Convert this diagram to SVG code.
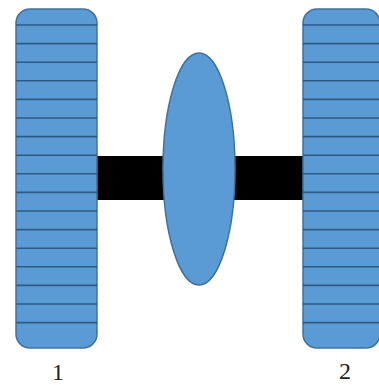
<svg xmlns="http://www.w3.org/2000/svg" width="379" height="385" viewBox="0 0 379 385">
  <defs>
    <style>
      .wheel { fill: #5b9bd5; stroke: #41719c; stroke-width: 1.5; }
      .tread { stroke: #2e5a86; stroke-width: 1.6; }
      .axle { fill: #000000; }
      .body { fill: #5b9bd5; stroke: #41719c; stroke-width: 1.5; }
      .label { font-family: "Liberation Serif", serif; font-size: 24px; fill: #222222; text-anchor: middle; }
    </style>
    <!-- tread lines shared by both wheels -->
    <g id="treads" class="tread">
      <line x1="0" y1="25" x2="77" y2="25"/>
      <line x1="0" y1="43.6" x2="77" y2="43.6"/>
      <line x1="0" y1="62.2" x2="77" y2="62.2"/>
      <line x1="0" y1="80.8" x2="77" y2="80.8"/>
      <line x1="0" y1="99.4" x2="77" y2="99.4"/>
      <line x1="0" y1="118" x2="77" y2="118"/>
      <line x1="0" y1="136.6" x2="77" y2="136.6"/>
      <line x1="0" y1="155.2" x2="77" y2="155.2"/>
      <line x1="0" y1="173.8" x2="77" y2="173.8"/>
      <line x1="0" y1="192.4" x2="77" y2="192.4"/>
      <line x1="0" y1="211" x2="77" y2="211"/>
      <line x1="0" y1="229.6" x2="77" y2="229.6"/>
      <line x1="0" y1="248.2" x2="77" y2="248.2"/>
      <line x1="0" y1="266.8" x2="77" y2="266.8"/>
      <line x1="0" y1="285.4" x2="77" y2="285.4"/>
      <line x1="0" y1="304" x2="77" y2="304"/>
      <line x1="0" y1="322.6" x2="77" y2="322.6"/>
    </g>
  </defs>
  <rect width="379" height="385" fill="#ffffff"/>

  <!-- axle bar between the wheels -->
  <g id="connectors">
    <rect class="axle" x="96" y="156" width="207" height="44"/>
  </g>

  <g id="wheel-1">
    <rect class="wheel" x="16" y="9" width="81" height="339" rx="14" ry="14"/>
    <use href="#treads" transform="translate(16 0) scale(1.052 1)"/>
  </g>

  <g id="wheel-2">
    <rect class="wheel" x="303" y="9" width="77" height="339" rx="14" ry="14"/>
    <use href="#treads" x="303"/>
  </g>

  <g id="body">
    <ellipse class="body" cx="199" cy="169" rx="36" ry="116"/>
  </g>

  <g id="labels">
    <text class="label" x="58" y="380">1</text>
    <text class="label" x="345" y="379">2</text>
  </g>
</svg>
